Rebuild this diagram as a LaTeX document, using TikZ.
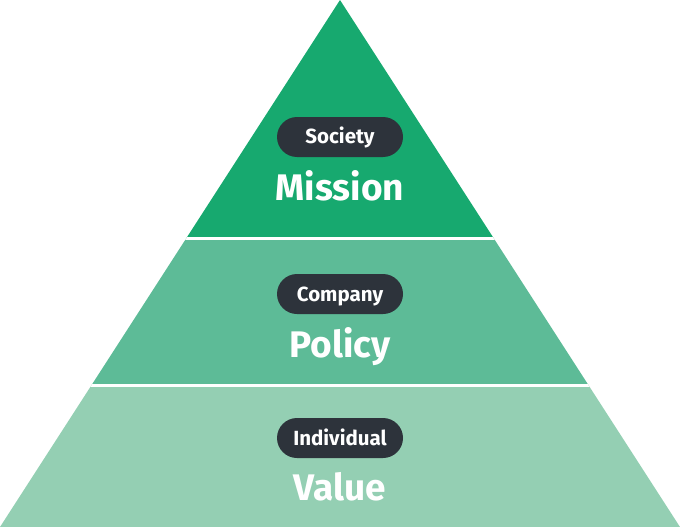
\documentclass[tikz,border=0pt]{standalone}
\usepackage{fontspec}
\setmainfont{Fira Sans}
\definecolor{topg}{HTML}{17A96F}
\definecolor{midg}{HTML}{5DBB97}
\definecolor{botg}{HTML}{94CFB3}
\definecolor{pillc}{HTML}{2D333B}
\tikzset{
  pill/.style={fill=pillc, rounded corners=20pt, draw=none},
  pilltext/.style={text=white, font=\fontsize{20.5}{20.5}\selectfont\bfseries, anchor=base, inner sep=0pt},
  bigtext/.style={text=white, font=\fontsize{37}{37}\selectfont\bfseries, anchor=base, inner sep=0pt},
  sep/.style={white, line width=3pt}
}
\begin{document}
\begin{tikzpicture}[x=1pt,y=-1pt]
\useasboundingbox (0,0) rectangle (680,527);
\coordinate (apex) at (340,0);
\coordinate (bl) at (0,527);
\coordinate (br) at (680,527);
\begin{scope}
  \clip (apex) -- (bl) -- (br) -- cycle;
  \fill[topg] (0,0) rectangle (680,238.5);
  \fill[midg] (0,238.5) rectangle (680,385.5);
  \fill[botg] (0,385.5) rectangle (680,527);
  \draw[sep] (0,238.5) -- (680,238.5);
  \draw[sep] (0,385.5) -- (680,385.5);
\end{scope}
% Society / Mission
\fill[pill] (277,117) rectangle (403,157);
\node[pilltext] (society) at (340,143.5) {Society};
\node[bigtext] (mission) at (340,200) {Mission};
% Company / Policy
\fill[pill] (277,274) rectangle (403,314);
\node[pilltext] (company) at (340,301.5) {Company};
\node[bigtext] (policy) at (340,357) {Policy};
% Individual / Value
\fill[pill] (277,418) rectangle (403,458);
\node[pilltext] (individual) at (340,445.5) {Individual};
\node[bigtext] (value) at (340,500) {Value};
\end{tikzpicture}
\end{document}
